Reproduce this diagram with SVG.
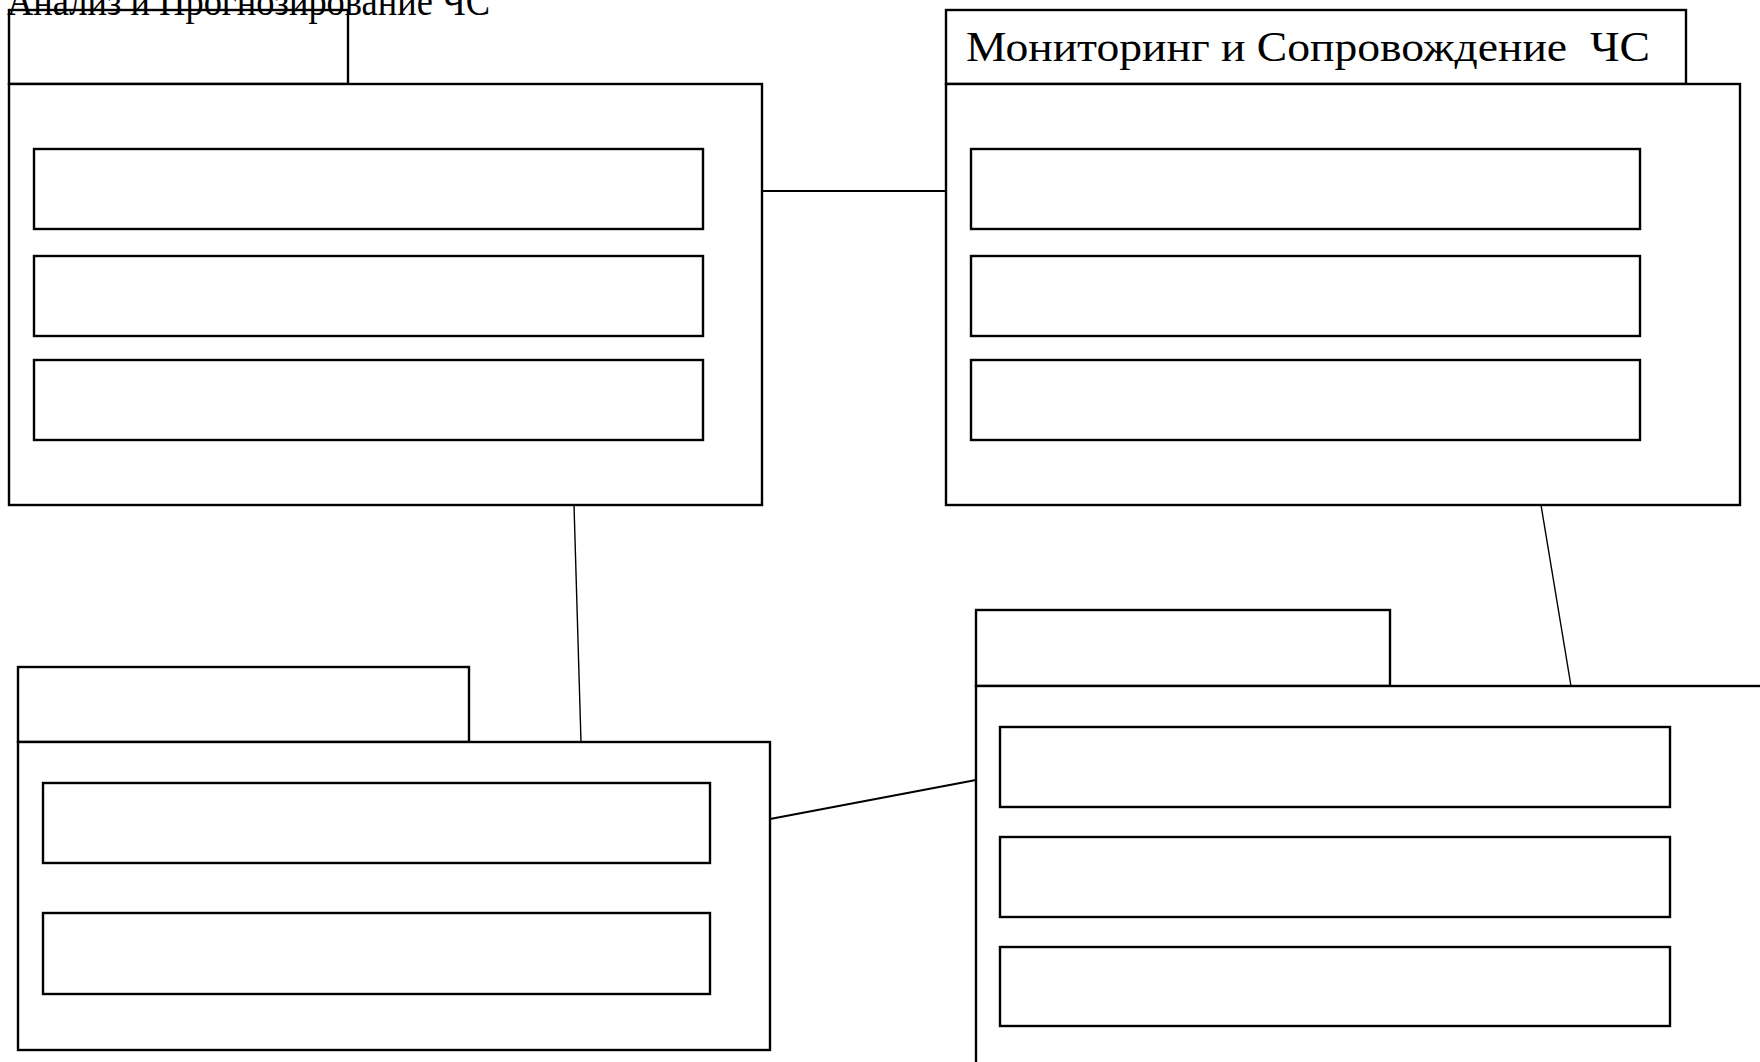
<svg xmlns="http://www.w3.org/2000/svg" width="1760" height="1062" viewBox="0 0 1760 1062">
<style>
.box{fill:#fff;stroke:#000;stroke-width:2.4}
.in{fill:#fff;stroke:#000;stroke-width:2.4}
.con{stroke:#000;fill:none}
.lbl{font-family:"Liberation Serif","Times New Roman",serif;font-size:42px;fill:#000}
</style>
<rect width="1760" height="1062" fill="#fff"/>
<g id="connectors">
<line class="con" x1="762" y1="191" x2="946" y2="191" stroke-width="2.2"/>
<line class="con" x1="574" y1="505" x2="581" y2="742" stroke-width="1.4"/>
<line class="con" x1="1541" y1="505" x2="1571" y2="686" stroke-width="1.4"/>
<line class="con" x1="770" y1="819" x2="976" y2="780" stroke-width="2.2"/>
</g>
<g id="node-a">
<rect class="box" x="9" y="10" width="339" height="74"/>
<rect class="box" x="9" y="84" width="753" height="421"/>
<text class="lbl" x="7" y="15" textLength="483" lengthAdjust="spacingAndGlyphs">Анализ и Прогнозирование ЧС</text>
<rect class="in" x="34" y="149" width="669" height="80"/>
<rect class="in" x="34" y="256" width="669" height="80"/>
<rect class="in" x="34" y="360" width="669" height="80"/>
</g>
<g id="node-b">
<rect class="box" x="946" y="10" width="740" height="74"/>
<rect class="box" x="946" y="84" width="794" height="421"/>
<text class="lbl" x="966" y="61" xml:space="preserve" textLength="684" lengthAdjust="spacingAndGlyphs">Мониторинг и Сопровождение  ЧС</text>
<rect class="in" x="971" y="149" width="669" height="80"/>
<rect class="in" x="971" y="256" width="669" height="80"/>
<rect class="in" x="971" y="360" width="669" height="80"/>
</g>
<g id="node-c">
<rect class="box" x="18" y="667" width="451" height="75"/>
<rect class="box" x="18" y="742" width="752" height="308"/>
<rect class="in" x="43" y="783" width="667" height="80"/>
<rect class="in" x="43" y="913" width="667" height="81"/>
</g>
<g id="node-d">
<rect class="box" x="976" y="610" width="414" height="76"/>
<rect class="box" x="976" y="686" width="800" height="400"/>
<rect class="in" x="1000" y="727" width="670" height="80"/>
<rect class="in" x="1000" y="837" width="670" height="80"/>
<rect class="in" x="1000" y="947" width="670" height="79"/>
</g>
</svg>
